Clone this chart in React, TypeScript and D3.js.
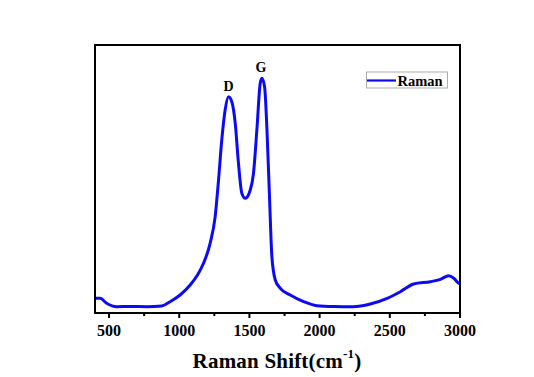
import React from "react";
import * as d3 from "d3";

const wavenumbers = [400, 407, 436, 483, 555, 650, 769, 876, 935, 1006, 1078, 1130, 1173, 1220, 1256, 1280, 1303, 1327, 1351, 1375, 1399, 1422, 1446, 1470, 1506, 1529, 1553, 1577, 1589, 1608, 1625, 1643, 1660, 1684, 1720, 1791, 1886, 1981, 2100, 2242, 2361, 2481, 2575, 2670, 2789, 2861, 2920, 2956, 2991, 3000];
const intensity = [15, 14.7, 14.7, 9.7, 6.3, 6.5, 6.3, 7, 11.3, 18, 28, 38, 49.7, 69.7, 96.3, 133, 173, 203, 216.3, 211, 189.7, 149.7, 119.7, 114.7, 123, 139.7, 183, 229.7, 234.7, 226.3, 183, 116.3, 56.3, 33, 24.7, 18, 11.3, 7.3, 6.5, 6.3, 9, 14.7, 21.3, 29, 31.3, 33.7, 37.3, 34.7, 29.7, 29];
const xTicks = [500, 1000, 1500, 2000, 2500, 3000];
const xMinorTicks = [750, 1250, 1750, 2250, 2750];
const peakLabels = [
  { name: "D", x: 1351, y: 216.3 },
  { name: "G", x: 1589, y: 234.7 },
];
const seriesName = "Raman";

const W = 534;
const H = 377;
const left = 95, right = 460, top = 45, bottom = 313;
const FONT = "'Liberation Serif', 'Times New Roman', serif";

export default function App() {
  const x = d3.scaleLinear().domain([400, 3000]).range([left, right]);
  const y = d3.scaleLinear().domain([0, 268]).range([bottom, top]);
  const pts = wavenumbers.map((w, i) => [w, intensity[i]] as [number, number]);
  const line = d3
    .line<[number, number]>()
    .x((d) => x(d[0]))
    .y((d) => y(d[1]))
    .curve(d3.curveMonotoneX);

  return (
    <svg
      width={W}
      height={H}
      style={{ position: "absolute", left: 0, top: 0, background: "#fff" }}
      fontFamily={FONT}
    >
      <rect x={0} y={0} width={W} height={H} fill="#fff" />
      <path d={line(pts) || ""} fill="none" stroke="#0a0af5" strokeWidth={3} strokeLinejoin="round" />
      <rect x={left} y={top} width={right - left} height={bottom - top} fill="none" stroke="#000" strokeWidth={2} />
      {xTicks.map((t) => (
        <g key={t}>
          <line x1={x(t)} x2={x(t)} y1={bottom} y2={bottom + 5} stroke="#000" strokeWidth={2} />
          <text x={x(t)} y={336} textAnchor="middle" fontSize={16} fontWeight="bold">
            {t}
          </text>
        </g>
      ))}
      {xMinorTicks.map((t) => (
        <line key={t} x1={x(t)} x2={x(t)} y1={bottom} y2={bottom + 3} stroke="#000" strokeWidth={2} />
      ))}
      <text x={277} y={368} textAnchor="middle" fontSize={21} fontWeight="bold" letterSpacing={0.2}>
        Raman Shift(cm
        <tspan fontSize={13} dy={-10}>-1</tspan>
        <tspan dy={10}>)</tspan>
      </text>
      {peakLabels.map((p) => (
        <text
          key={p.name}
          x={x(p.x) - (p.name === "D" ? 0 : 1)}
          y={y(p.y) - 6}
          textAnchor="middle"
          fontSize={14}
          fontWeight="bold"
        >
          {p.name}
        </text>
      ))}
      <rect x={366.5} y={72} width={81} height={16} fill="#fff" stroke="#999" strokeWidth={0.8} />
      <line x1={367} x2={396} y1={80.5} y2={80.5} stroke="#0a0af5" strokeWidth={2.2} />
      <text x={397.5} y={86} fontSize={14.5} fontWeight="bold">
        {seriesName}
      </text>
    </svg>
  );
}
